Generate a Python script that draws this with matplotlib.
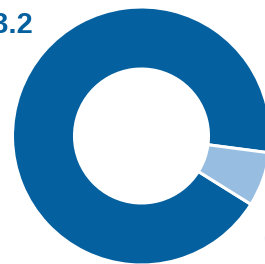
import matplotlib
matplotlib.use("Agg")
import matplotlib.pyplot as plt

# data
labels = ["main", "other"]
values = [93.2, 6.8]
colors = ["#04609f", "#97bde0"]
big_label = "93.2"
small_label = "6.8"

fig = plt.figure(figsize=(2.65, 2.64), dpi=100)
ax = fig.add_axes([0, 0, 1, 1])
ax.set_xlim(0, 265)
ax.set_ylim(0, 264)
ax.set_aspect("equal")
ax.axis("off")

ax.pie(values, colors=colors, startangle=-7.5, center=(141.5, 128), radius=129,
       wedgeprops=dict(width=62, edgecolor="white", linewidth=2.2))
ax.set_xlim(0, 265)
ax.set_ylim(0, 264)

ax.text(33, 231, big_label, ha="right", va="baseline", fontsize=21,
        fontweight="bold", color=colors[0], family="Liberation Sans")
ax.text(263, 17, small_label, ha="left", va="baseline", fontsize=18,
        fontweight="bold", color=colors[1], family="Liberation Sans")

fig.savefig("out.png", dpi=100)
